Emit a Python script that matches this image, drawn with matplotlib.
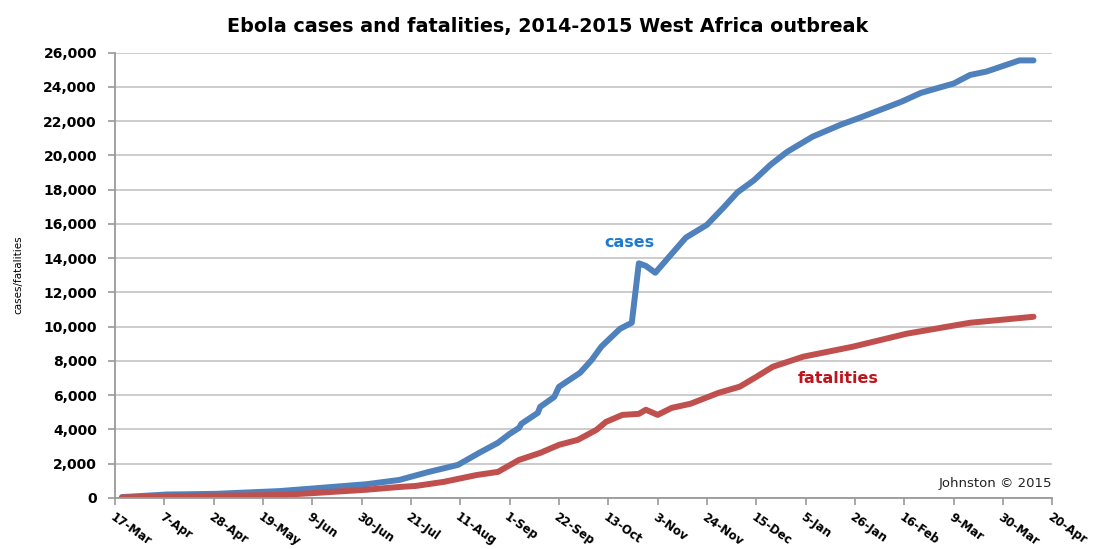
import pandas as pd
import matplotlib.pyplot as plt

case_dates = ["2014-03-20", "2014-04-08", "2014-04-29", "2014-05-26", "2014-06-09", "2014-07-02",
              "2014-07-16", "2014-07-28", "2014-08-10", "2014-08-19", "2014-08-27", "2014-09-01",
              "2014-09-05", "2014-09-06", "2014-09-13", "2014-09-14", "2014-09-20", "2014-09-22",
              "2014-10-01", "2014-10-06", "2014-10-10", "2014-10-18", "2014-10-23", "2014-10-26",
              "2014-10-29", "2014-11-02", "2014-11-08", "2014-11-15", "2014-11-24", "2014-12-01",
              "2014-12-07", "2014-12-14", "2014-12-21", "2014-12-28", "2015-01-08", "2015-01-20",
              "2015-01-28", "2015-02-15", "2015-02-23", "2015-03-09", "2015-03-16", "2015-03-23",
              "2015-04-06", "2015-04-12"]
cases = [50, 200, 240, 400, 550, 800,
         1050, 1500, 1930, 2630, 3220, 3740,
         4090, 4330, 4970, 5320, 5900, 6490,
         7310, 8070, 8830, 9880, 10230, 13700,
         13550, 13150, 14100, 15200, 15950, 16950,
         17850, 18550, 19450, 20200, 21100, 21800,
         22200, 23150, 23650, 24200, 24700, 24900,
         25550, 25550]

death_dates = ["2014-03-20", "2014-04-22", "2014-05-26", "2014-06-09", "2014-07-02", "2014-07-16",
               "2014-07-23", "2014-08-04", "2014-08-18", "2014-08-27", "2014-09-05", "2014-09-14",
               "2014-09-22", "2014-09-30", "2014-10-08", "2014-10-12", "2014-10-19", "2014-10-26",
               "2014-10-29", "2014-11-03", "2014-11-09", "2014-11-17", "2014-11-29", "2014-12-08",
               "2014-12-15", "2014-12-22", "2015-01-04", "2015-01-25", "2015-02-17", "2015-03-16",
               "2015-04-12"]
deaths = [30, 120, 170, 280, 480, 640,
          700, 940, 1340, 1520, 2220, 2630,
          3100, 3390, 3980, 4440, 4850, 4910,
          5150, 4850, 5260, 5500, 6140, 6500,
          7070, 7660, 8250, 8830, 9590, 10230,
          10580]

tick_dates = pd.date_range("2014-03-17", "2015-04-20", freq="21D")
tick_labels = [f"{d.day}-{d.strftime('%b')}" for d in tick_dates]
y_ticks = list(range(0, 26001, 2000))

blue = "#4F81BD"
red = "#C0504D"

fig = plt.figure(figsize=(10.95, 5.49), dpi=100)
ax = fig.add_axes([0.105, 0.093, 0.856, 0.811])

ax.plot(pd.to_datetime(case_dates), cases, color=blue, lw=4.3,
        solid_capstyle="round", solid_joinstyle="round")
ax.plot(pd.to_datetime(death_dates), deaths, color=red, lw=4.3,
        solid_capstyle="round", solid_joinstyle="round")

ax.set_xlim(tick_dates[0], tick_dates[-1])
ax.set_ylim(0, 26000)
ax.set_yticks(y_ticks)
ax.set_yticklabels([f"{v:,}" for v in y_ticks], fontsize=10, fontweight="bold")
ax.set_xticks(tick_dates)
ax.set_xticklabels(tick_labels, fontsize=8.5, fontweight="bold",
                   rotation=-35, ha="left", va="top", rotation_mode="anchor")

ax.grid(axis="y", color="#C4C4C4", lw=1.2)
ax.set_axisbelow(True)
for s in ["top", "right"]:
    ax.spines[s].set_visible(False)
for s in ["left", "bottom"]:
    ax.spines[s].set_color("#9A9A9A")
    ax.spines[s].set_linewidth(1.3)
ax.tick_params(axis="both", direction="out", length=5, color="#9A9A9A", width=1.2)
ax.tick_params(axis="y", pad=8)
ax.tick_params(axis="x", pad=4)

ax.text(pd.Timestamp("2014-10-22"), 14900, "cases", color="#1E7BD0",
        fontsize=11.5, fontweight="bold", ha="center", va="center")
ax.text(pd.Timestamp("2015-01-19"), 7000, "fatalities", color="#C0141C",
        fontsize=11.5, fontweight="bold", ha="center", va="center")
ax.text(1.0, 0.033, "Johnston \u00a9 2015", transform=ax.transAxes,
        fontsize=9.5, ha="right", va="center", color="#222222")

fig.text(0.5, 0.951, "Ebola cases and fatalities, 2014-2015 West Africa outbreak",
         fontsize=13.8, fontweight="bold", ha="center", va="center")
fig.text(0.017, 0.5, "cases/fatalities", rotation=90, fontsize=7.5,
         ha="center", va="center", family="Liberation Sans Narrow")

fig.savefig("out.png", dpi=100)
